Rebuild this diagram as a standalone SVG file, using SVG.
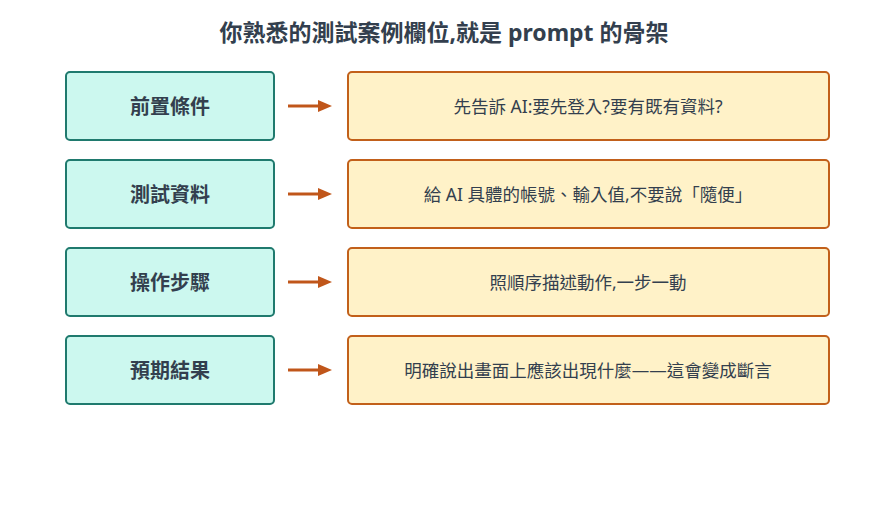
<svg xmlns="http://www.w3.org/2000/svg" width="889" height="510" viewBox="0 0 889 510">
<style>
text{font-family:"Noto Sans","Noto Sans CJK TC",sans-serif;text-anchor:middle;dominant-baseline:central;fill:#333f4e}
.l{fill:#ccf8ef;stroke:#1f7a6e;stroke-width:2}
.r{fill:#fff2c8;stroke:#c2601a;stroke-width:2}
.lt{font-size:20px;font-weight:bold}
.rt{font-size:17.5px}
.c{stroke:#c0561a;stroke-width:3;fill:none}
</style>
<defs><marker id="a" markerWidth="14" markerHeight="12" refX="2" refY="6" orient="auto" markerUnits="userSpaceOnUse"><path d="M0,0L14,6L0,12z" fill="#c0561a"/></marker></defs>
<rect width="889" height="510" fill="#fff"/>
<text x="444" y="32" style="font-size:23px;font-weight:bold">你熟悉的測試案例欄位,就是 prompt 的骨架</text>
<g id="n1"><rect class="l" x="66" y="72" width="208" height="68" rx="4"/><text class="lt" x="170" y="106">前置條件</text></g>
<g id="n2"><rect class="l" x="66" y="160" width="208" height="68" rx="4"/><text class="lt" x="170" y="194">測試資料</text></g>
<g id="n3"><rect class="l" x="66" y="248" width="208" height="68" rx="4"/><text class="lt" x="170" y="282">操作步驟</text></g>
<g id="n4"><rect class="l" x="66" y="336" width="208" height="68" rx="4"/><text class="lt" x="170" y="370">預期結果</text></g>
<g id="m1"><rect class="r" x="348" y="72" width="481" height="68" rx="4"/><text class="rt" x="588" y="106">先告訴 AI:要先登入?要有既有資料?</text></g>
<g id="m2"><rect class="r" x="348" y="160" width="481" height="68" rx="4"/><text class="rt" x="588" y="194">給 AI 具體的帳號、輸入值,不要說「隨便」</text></g>
<g id="m3"><rect class="r" x="348" y="248" width="481" height="68" rx="4"/><text class="rt" x="588" y="282">照順序描述動作,一步一動</text></g>
<g id="m4"><rect class="r" x="348" y="336" width="481" height="68" rx="4"/><text class="rt" x="588" y="370">明確說出畫面上應該出現什麼——這會變成斷言</text></g>
<g id="connectors">
<path class="c" d="M288,106H320" marker-end="url(#a)"/>
<path class="c" d="M288,194H320" marker-end="url(#a)"/>
<path class="c" d="M288,282H320" marker-end="url(#a)"/>
<path class="c" d="M288,370H320" marker-end="url(#a)"/>
</g>
</svg>
